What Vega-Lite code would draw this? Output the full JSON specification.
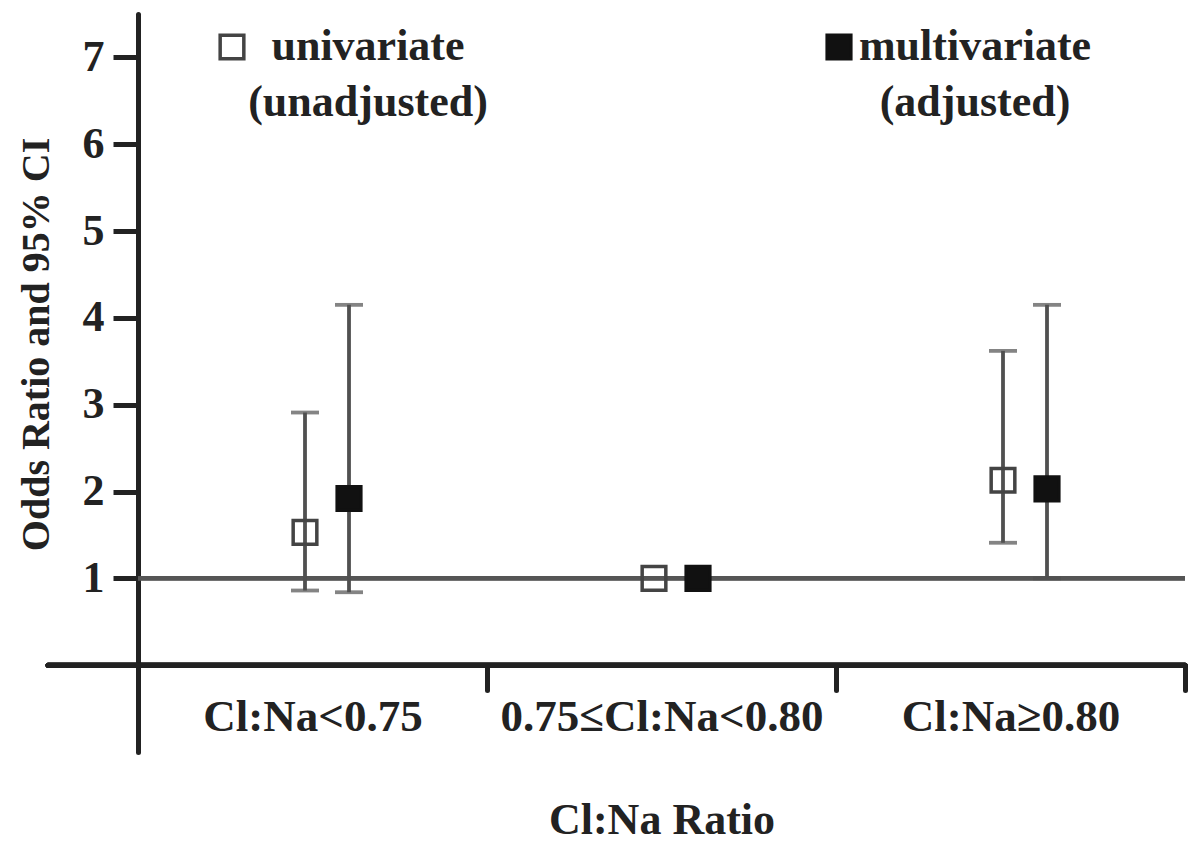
{
  "$schema": "https://vega.github.io/schema/vega-lite/v6.json",
  "width": 1137,
  "height": 738,
  "autosize": "none",
  "padding": {"left": 48, "top": 14, "right": 15, "bottom": 104},
  "background": "white",
  "config": {"view": {"stroke": null}, "font": "Liberation Serif", "style": {"guide-label": {"lineHeight": 56}}},
  "data": {"values": [
    {"group": "Cl:Na<0.75", "model": "univariate", "or": 1.53, "lo": 0.86, "hi": 2.91},
    {"group": "Cl:Na<0.75", "model": "multivariate", "or": 1.92, "lo": 0.84, "hi": 4.15},
    {"group": "0.75≤Cl:Na<0.80", "model": "univariate", "or": 1.0, "lo": null, "hi": null},
    {"group": "0.75≤Cl:Na<0.80", "model": "multivariate", "or": 1.0, "lo": null, "hi": null},
    {"group": "Cl:Na≥0.80", "model": "univariate", "or": 2.13, "lo": 1.41, "hi": 3.62},
    {"group": "Cl:Na≥0.80", "model": "multivariate", "or": 2.03, "lo": 1.0, "hi": 4.15}
  ]},
  "layer": [
    {
      "mark": {"type": "rule", "color": "#222", "strokeWidth": 5, "strokeCap": "round"},
      "encoding": {
        "y": {"datum": 0, "type": "quantitative", "scale": {"domain": [-1, 7.5], "nice": false, "zero": false},
          "axis": {"values": [1, 2, 3, 4, 5, 6, 7], "format": "d", "offset": -90, "grid": false,
            "domainColor": "#222", "domainWidth": 5, "domainCap": "round",
            "tickColor": "#222", "tickWidth": 5, "tickSize": 25,
            "labelFont": "Liberation Serif", "labelFontWeight": "bold", "labelFontSize": 44, "labelColor": "#222", "labelPadding": 9,
            "titleFont": "Liberation Serif", "titleFontWeight": "bold", "titleFontSize": 40, "titleColor": "#222", "titlePadding": 26, "titleY": 330},
          "title": "Odds Ratio and 95% CI"}
      }
    },
    {
      "mark": {"type": "rule", "color": "#555", "strokeWidth": 4},
      "encoding": {
        "x": {"datum": "Cl:Na<0.75", "type": "nominal", "bandPosition": 0,
          "scale": {"domain": ["Cl:Na<0.75", "0.75≤Cl:Na<0.80", "Cl:Na≥0.80"], "range": [90, 1137], "paddingInner": 0, "paddingOuter": 0},
          "axis": {"orient": "bottom", "offset": -87, "domain": false, "tickBand": "extent", "tickSize": 25, "tickWidth": 5, "tickColor": "#222", "tickCap": "round",
            "labelAngle": 0, "labelFont": "Liberation Serif", "labelFontWeight": "bold", "labelFontSize": 45, "labelColor": "#222", "labelPadding": 4, "labelLimit": 0,
            "titleFont": "Liberation Serif", "titleFontWeight": "bold", "titleFontSize": 44, "titleColor": "#222", "titlePadding": 59},
          "title": "Cl:Na Ratio"},
        "x2": {"datum": "Cl:Na≥0.80", "bandPosition": 1},
        "y": {"datum": 1, "type": "quantitative", "title": "Odds Ratio and 95% CI"}
      }
    },
    {
      "mark": {"type": "rule", "color": "#505050", "strokeWidth": 3.8},
      "encoding": {
        "x": {"field": "group", "type": "nominal", "title": "Cl:Na Ratio"},
        "xOffset": {"field": "model", "type": "nominal", "scale": {"domain": ["univariate", "multivariate"], "range": [145, 233], "paddingInner": 0, "paddingOuter": 0}},
        "y": {"field": "lo", "type": "quantitative", "title": "Odds Ratio and 95% CI"},
        "y2": {"field": "hi"}
      }
    },
    {
      "mark": {"type": "tick", "color": "#505050", "thickness": 3.8, "size": 28, "orient": "horizontal"},
      "encoding": {
        "x": {"field": "group", "type": "nominal", "title": "Cl:Na Ratio"},
        "xOffset": {"field": "model", "type": "nominal"},
        "y": {"field": "lo", "type": "quantitative", "title": "Odds Ratio and 95% CI"}
      }
    },
    {
      "mark": {"type": "tick", "color": "#505050", "thickness": 3.8, "size": 28, "orient": "horizontal"},
      "encoding": {
        "x": {"field": "group", "type": "nominal", "title": "Cl:Na Ratio"},
        "xOffset": {"field": "model", "type": "nominal"},
        "y": {"field": "hi", "type": "quantitative", "title": "Odds Ratio and 95% CI"}
      }
    },
    {
      "mark": {"type": "point", "shape": "square", "size": 560, "strokeWidth": 3.5, "opacity": 1},
      "encoding": {
        "x": {"field": "group", "type": "nominal", "title": "Cl:Na Ratio"},
        "xOffset": {"field": "model", "type": "nominal"},
        "y": {"field": "or", "type": "quantitative", "title": "Odds Ratio and 95% CI"},
        "fill": {"field": "model", "type": "nominal",
          "scale": {"domain": ["univariate", "multivariate"], "range": ["transparent", "#111"]},
          "legend": {"orient": "none", "legendX": 162, "legendY": 11, "direction": "horizontal", "title": null,
            "symbolType": "square", "symbolSize": 560, "symbolStrokeWidth": 3.5, "padding": 0,
            "labelFont": "Liberation Serif", "labelFontWeight": "bold", "labelFontSize": 44, "labelColor": "#222", "labelLimit": 0,
            "labelAlign": "center", "labelOffset": 114,
            "columnPadding": 329, "gridAlign": "none",
            "labelExpr": "datum.label == 'univariate' ? ['univariate', '(unadjusted)'] : ['multivariate', '(adjusted)']"}},
        "stroke": {"field": "model", "type": "nominal",
          "scale": {"domain": ["univariate", "multivariate"], "range": ["#444", "#111"]}}
      }
    }
  ]
}
